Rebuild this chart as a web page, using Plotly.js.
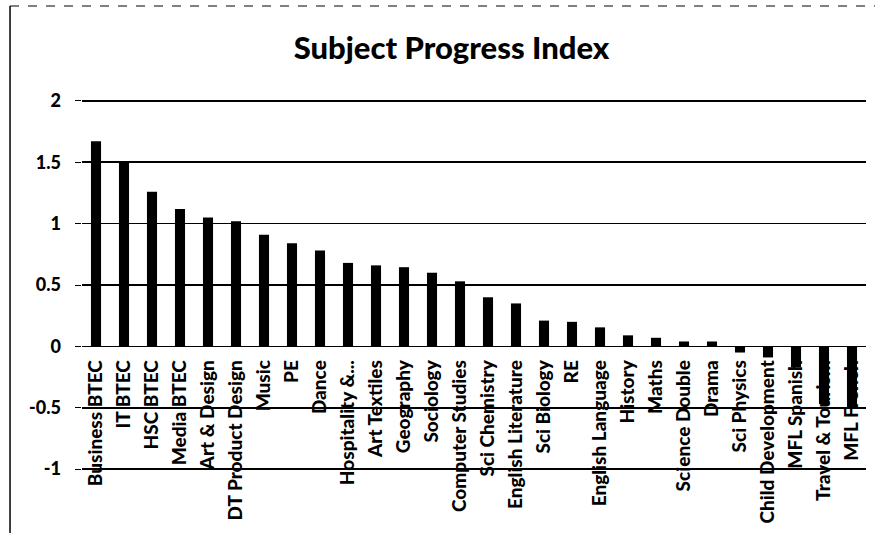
<!DOCTYPE html>
<html>
<head>
<meta charset="utf-8">
<script src="https://cdn.plot.ly/plotly-3.0.1.min.js"></script>
<style>html,body{margin:0;padding:0;background:#fff;}#chart{width:875px;height:533px;}</style>
</head>
<body>
<div id="chart"></div>
<script>
const subjects = ["Business BTEC","IT BTEC","HSC BTEC","Media BTEC","Art & Design","DT Product Design","Music","PE","Dance","Hospitality &...","Art Textiles","Geography","Sociology","Computer Studies","Sci Chemistry","English Literature","Sci Biology","RE","English Language","History","Maths","Science Double","Drama","Sci Physics","Child Development","MFL Spanish","Travel & Tourism","MFL French"];
const progressIndex = [1.67,1.51,1.26,1.12,1.05,1.02,0.91,0.84,0.78,0.68,0.66,0.645,0.60,0.53,0.40,0.35,0.21,0.20,0.155,0.09,0.07,0.04,0.04,-0.05,-0.09,-0.17,-0.47,-0.50];
const yTicks = [-1,-0.5,0,0.5,1,1.5,2];

const font = "Lato, 'Open Sans', sans-serif";
Plotly.newPlot('chart', [{
  type: 'bar',
  x: subjects,
  y: progressIndex,
  marker: {color: '#000000'},
  hoverinfo: 'x+y'
}], {
  width: 875, height: 533,
  margin: {l: 82, r: 9, t: 99, b: 62},
  paper_bgcolor: '#ffffff', plot_bgcolor: '#ffffff',
  bargap: 0.64,
  showlegend: false,
  title: {text: 'Subject Progress Index', x: 0.516, xanchor: 'center', y: 0.91, yanchor: 'middle',
          font: {family: font, size: 31, color: '#000', weight: 900}},
  xaxis: {
    type: 'category', anchor: 'free', position: 0.335,
    tickangle: -90, ticks: '', showgrid: false, showline: false, zeroline: false,
    ticklabelstandoff: 9,
    tickfont: {family: font, size: 19, color: '#000', weight: 900},
    automargin: false
  },
  yaxis: {
    range: [-1.015, 2.015], tickvals: yTicks,
    ticktext: yTicks.map(v => String(v) + '<span style="color:rgba(0,0,0,0)">0</span>'),
    showgrid: true, gridcolor: '#000', gridwidth: 1.5,
    zeroline: true, zerolinecolor: '#000', zerolinewidth: 1.5,
    ticks: 'outside', ticklen: 6, tickcolor: '#000', tickwidth: 1,
    showline: false,
    tickfont: {family: font, size: 18, color: '#000', weight: 900},
    automargin: false
  },
  shapes: [
    {type: 'line', xref: 'paper', yref: 'paper', x0: -0.0918, x1: -0.0918, y0: 1.25, y1: -0.2, line: {color: '#000', width: 1.5}},
    {type: 'line', xref: 'paper', yref: 'paper', x0: -0.0918, x1: 1.02, y0: 1.25, y1: 1.25, line: {color: '#000', width: 1, dash: 'dash'}}
  ]
}, {staticPlot: true});
</script>
</body>
</html>
